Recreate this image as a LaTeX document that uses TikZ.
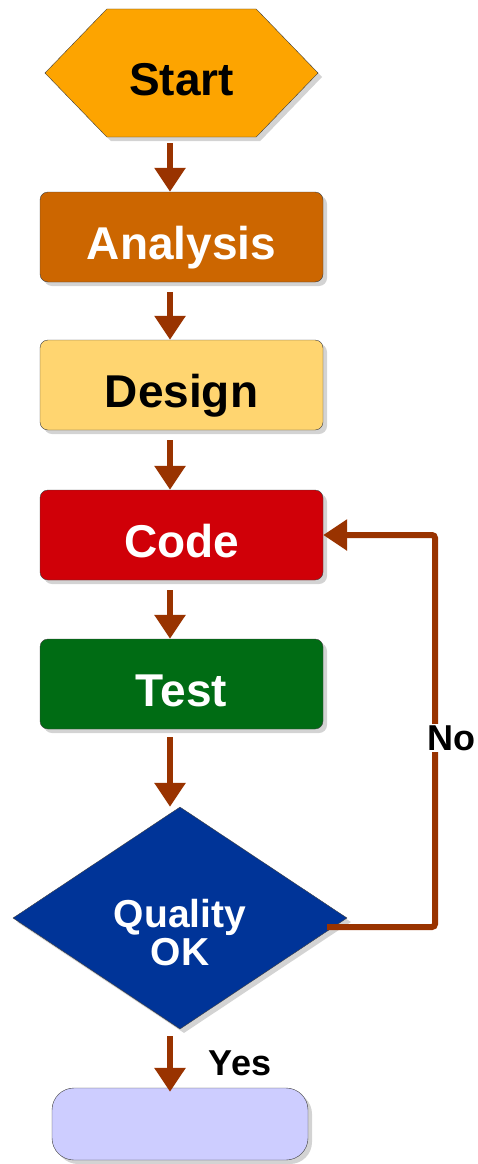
\documentclass[tikz,border=0pt]{standalone}
\usepackage{fontspec}
\setmainfont{Liberation Sans}
\usetikzlibrary{shapes.geometric,shapes.symbols,shadows,arrows.meta}

\definecolor{startorange}{RGB}{253,164,0}
\definecolor{analysisbrown}{RGB}{204,102,0}
\definecolor{designyellow}{RGB}{255,213,112}
\definecolor{codered}{RGB}{208,0,8}
\definecolor{testgreen}{RGB}{0,108,20}
\definecolor{qualityblue}{RGB}{0,52,152}
\definecolor{finishlilac}{RGB}{205,205,255}
\definecolor{flowbrown}{RGB}{153,51,0}

\begin{document}
\begin{tikzpicture}[x=1pt,y=-1pt,
  stepbox/.style={draw=black!75,thin,rounded corners=8pt,minimum width=283pt,minimum height=90pt,
    inner sep=0pt,text height=45pt,text depth=0pt,font=\fontsize{46}{50}\selectfont\bfseries,
    drop shadow={shadow xshift=4pt,shadow yshift=-4pt,opacity=0.35}},
  flow/.style={>={Triangle[width=30pt,length=24pt]},draw=flowbrown,line width=6pt},
  answer/.style={font=\fontsize{36}{40}\selectfont\bfseries,inner sep=1pt}]

\useasboundingbox (0,0) rectangle (477,1164);
\coordinate (axis) at (170,0);
\coordinate (loop) at (435,0);

% Draw the steps
\node[stepbox,shape=signal,signal to=east and west,signal pointer angle=92,rounded corners=0pt,
  minimum width=273pt,minimum height=128pt,fill=startorange] (start) at (181.5,73) {Start};
\node[stepbox,fill=analysisbrown,text=white] (analysis) at (181.5,237) {Analysis};
\node[stepbox,fill=designyellow] (design) at (181.5,385) {Design};
\node[stepbox,fill=codered,text=white] (code) at (181.5,535) {Code};
\node[stepbox,fill=testgreen,text=white] (test) at (181.5,684) {Test};
\node[stepbox,shape=diamond,rounded corners=0pt,aspect=1.5,minimum width=334pt,minimum height=222pt,
  text height=58pt,text depth=40pt,fill=qualityblue,text=white,font=\fontsize{39}{38}\selectfont\bfseries]
  (quality) at (180,918) {\parbox[t]{150pt}{\centering Quality\\OK}};
\node[stepbox,rounded corners=22pt,minimum width=256pt,minimum height=72pt,fill=finishlilac] (finish) at (180,1124) {};
\coordinate (qout) at ([shift={(-20pt,-9pt)}]quality.east);

% Draw the arrows
\draw[flow,->,shorten <=6pt] (start.south -| axis) -- (analysis.north -| axis);
\draw[flow,->,shorten <=10pt] (analysis.south -| axis) -- (design.north -| axis);
\draw[flow,->,shorten <=10pt] (design.south -| axis) -- (code.north -| axis);
\draw[flow,->,shorten <=10pt] (code.south -| axis) -- (test.north -| axis);
\draw[flow,->,shorten <=8pt] (test.south -| axis) -- (quality.north -| axis);
\draw[flow,->,shorten <=7pt,shorten >=-4pt] (quality.south -| axis) -- (finish.north -| axis);
\draw[flow,->,rounded corners=3pt] (qout) -- (qout -| loop) |- (code.east);

% Label the answers
\node[answer,fill=white] (no) at (451,738) {No};
\node[answer] (yes) at (240,1063) {Yes};

\end{tikzpicture}
\end{document}
